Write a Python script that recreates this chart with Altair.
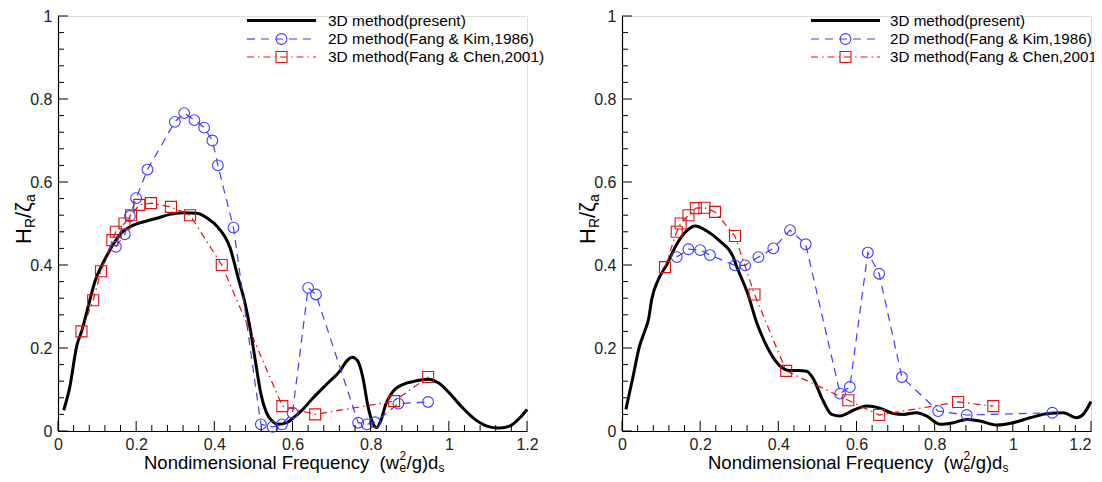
import altair as alt
import pandas as pd

# ---------------- data : left panel ----------------
L_black_x = [0.0146, 0.03, 0.048, 0.062, 0.08, 0.0947, 0.116, 0.1415, 0.163, 0.193, 0.227, 0.2525, 0.2866,
             0.32, 0.355, 0.3805, 0.41, 0.44, 0.461, 0.478, 0.492, 0.505, 0.519, 0.533, 0.548, 0.564, 0.585,
             0.6, 0.62, 0.653, 0.69, 0.7215, 0.739, 0.753, 0.766, 0.78, 0.793, 0.805, 0.815, 0.826, 0.839,
             0.857, 0.885, 0.912, 0.947, 0.975, 1.0, 1.031, 1.067, 1.104, 1.131, 1.16, 1.18, 1.2]
L_black_y = [0.05, 0.105, 0.205, 0.245, 0.31, 0.361, 0.406, 0.45, 0.478, 0.496, 0.506, 0.5125, 0.522,
             0.526, 0.5245, 0.514, 0.49, 0.442, 0.369, 0.31, 0.245, 0.169, 0.09, 0.045, 0.024, 0.016, 0.02,
             0.03, 0.046, 0.08, 0.115, 0.145, 0.169, 0.178, 0.17, 0.129, 0.06, 0.02, 0.008, 0.025, 0.065,
             0.095, 0.113, 0.12, 0.125, 0.115, 0.093, 0.06, 0.028, 0.01, 0.007, 0.014, 0.03, 0.052]

L_blue_x = [0.148, 0.171, 0.184, 0.2, 0.229, 0.299, 0.323, 0.349, 0.374, 0.395, 0.409, 0.449, 0.519, 0.549,
            0.573, 0.6, 0.64, 0.66, 0.768, 0.79, 0.811, 0.871, 0.947]
L_blue_y = [0.444, 0.474, 0.518, 0.561, 0.63, 0.745, 0.766, 0.749, 0.731, 0.70, 0.64, 0.49, 0.016, 0.010,
            0.016, 0.044, 0.345, 0.329, 0.02, 0.016, 0.021, 0.066, 0.07]

L_red_x = [0.06, 0.09, 0.11, 0.139, 0.148, 0.17, 0.187, 0.208, 0.238, 0.289, 0.338, 0.419, 0.574, 0.658,
           0.86, 0.947]
L_red_y = [0.24, 0.315, 0.385, 0.46, 0.48, 0.50, 0.52, 0.545, 0.549, 0.54, 0.52, 0.40, 0.06, 0.04, 0.072, 0.13]

# ---------------- data : right panel ----------------
R_black_x = [0.01, 0.028, 0.045, 0.058, 0.068, 0.076, 0.093, 0.114, 0.14, 0.1655, 0.187, 0.217, 0.25, 0.285,
             0.292, 0.322, 0.345, 0.365, 0.387, 0.409, 0.426, 0.45, 0.4725, 0.49, 0.511, 0.5365, 0.558, 0.592,
             0.626, 0.66, 0.694, 0.72, 0.754, 0.78, 0.814, 0.848, 0.882, 0.916, 0.959, 1.001, 1.044, 1.095,
             1.129, 1.163, 1.18, 1.2]
R_black_y = [0.052, 0.13, 0.205, 0.24, 0.27, 0.317, 0.365, 0.40, 0.45, 0.482, 0.494, 0.482, 0.458, 0.418,
             0.40, 0.33, 0.26, 0.215, 0.177, 0.153, 0.146, 0.146, 0.144, 0.125, 0.08, 0.04, 0.036, 0.05,
             0.06, 0.055, 0.042, 0.04, 0.044, 0.036, 0.016, 0.02, 0.028, 0.024, 0.0145, 0.02, 0.032, 0.0425,
             0.044, 0.032, 0.04, 0.071]

R_blue_x = [0.14, 0.17, 0.2, 0.225, 0.289, 0.315, 0.349, 0.387, 0.43, 0.47, 0.558, 0.583, 0.629, 0.658,
            0.716, 0.809, 0.882, 1.101]
R_blue_y = [0.419, 0.438, 0.436, 0.424, 0.399, 0.399, 0.419, 0.44, 0.484, 0.45, 0.09, 0.106, 0.43, 0.379,
            0.13, 0.048, 0.0385, 0.044]

R_red_x = [0.11, 0.14, 0.15, 0.17, 0.189, 0.211, 0.238, 0.289, 0.339, 0.42, 0.579, 0.658, 0.86, 0.95]
R_red_y = [0.395, 0.48, 0.50, 0.52, 0.537, 0.538, 0.528, 0.47, 0.329, 0.145, 0.074, 0.0385, 0.07, 0.06]

legend_labels = ["3D method(present)", "2D method(Fang & Kim,1986)", "3D method(Fang & Chen,2001)"]

x_major = [0, 0.2, 0.4, 0.6, 0.8, 1.0, 1.2]
y_major = [0, 0.2, 0.4, 0.6, 0.8, 1.0]
x_minor = [round(0.04 * i, 2) for i in range(31) if i % 5]
y_minor = [round(0.04 * i, 2) for i in range(26) if i % 5]

# ---------------- style ----------------
W, H = 469, 415
BLUE = "#3c3cff"
RED = "#dd1111"
FONT = "Liberation Sans"
BLUE_DASH = [8, 6]
RED_DASH = [7, 4, 1.5, 4]

xs = alt.Scale(domain=[0, 1.2], nice=False, zero=False)
ys = alt.Scale(domain=[0, 1], nice=False, zero=False)


def one():
    return pd.DataFrame({"k": [0]})


def txt(text, x, y, size, angle=0, align="left", baseline="alphabetic", color="black"):
    return alt.Chart(one()).mark_text(
        text=text, font=FONT, fontSize=size, angle=angle, align=align, baseline=baseline, color=color
    ).encode(x=alt.value(x), y=alt.value(y))


def panel(bx, by, cx, cy, sx, sy, last_right=False):
    black = pd.DataFrame({"x": bx, "y": by})
    blue = pd.DataFrame({"x": cx, "y": cy})
    red = pd.DataFrame({"x": sx, "y": sy})

    xaxis_kw = dict(values=x_major, format="~g", ticks=False, tickSize=0, grid=False,
                    domainColor="black", domainWidth=1.2, labelFont=FONT, labelFontSize=16,
                    labelColor="#222", labelPadding=5, title=None, labelFlush=False,
                    labelOverlap=False, labelBound=False)
    if last_right:
        xaxis_kw["labelAlign"] = {"condition": {"test": "datum.value >= 1.19", "value": "right"},
                                  "value": "center"}
    xaxis = alt.Axis(**xaxis_kw)
    yaxis = alt.Axis(values=y_major, format="~g", ticks=False, tickSize=0, grid=False,
                     domainColor="black", domainWidth=1.2, labelFont=FONT, labelFontSize=16,
                     labelColor="#222", labelPadding=6, title=None, labelOverlap=False)

    X = lambda f: alt.X(f, scale=xs, axis=xaxis)
    Y = lambda f: alt.Y(f, scale=ys, axis=yaxis)

    layers = []
    layers.append(alt.Chart(black).mark_line(color="black", strokeWidth=3, interpolate="monotone").encode(
        x=X("x:Q"), y=Y("y:Q")))

    layers.append(alt.Chart(blue).mark_line(color=BLUE, strokeWidth=1.2, strokeDash=BLUE_DASH).encode(
        x=X("x:Q"), y=Y("y:Q")))
    layers.append(alt.Chart(blue).mark_point(shape="circle", filled=False, size=115, color=BLUE,
                                             strokeWidth=1.1, opacity=1).encode(x=X("x:Q"), y=Y("y:Q")))

    layers.append(alt.Chart(red).mark_line(color=RED, strokeWidth=1.2, strokeDash=RED_DASH).encode(
        x=X("x:Q"), y=Y("y:Q")))
    layers.append(alt.Chart(red).mark_point(shape="square", filled=False, size=121, color=RED,
                                            strokeWidth=1.1, opacity=1).encode(x=X("x:Q"), y=Y("y:Q")))

    # inward ticks
    layers.append(alt.Chart(pd.DataFrame({"x": y_major})).mark_rule(color="black", strokeWidth=1).encode(
        y=Y("x:Q"), x=alt.value(0), x2=alt.value(10)))
    layers.append(alt.Chart(pd.DataFrame({"x": y_minor})).mark_rule(color="black", strokeWidth=1).encode(
        y=Y("x:Q"), x=alt.value(0), x2=alt.value(6)))
    layers.append(alt.Chart(pd.DataFrame({"x": x_major})).mark_rule(color="black", strokeWidth=1).encode(
        x=X("x:Q"), y=alt.value(H), y2=alt.value(H - 10)))
    layers.append(alt.Chart(pd.DataFrame({"x": x_minor})).mark_rule(color="black", strokeWidth=1).encode(
        x=X("x:Q"), y=alt.value(H), y2=alt.value(H - 6)))

    # legend
    rows = [4.5, 23, 41]
    lx0, lx1, lm = 189, 258, 223.5
    lt = 268 if last_right else 270
    lfs = 15.2 if last_right else 15.5
    layers.append(alt.Chart(one()).mark_rule(color="black", strokeWidth=3).encode(
        x=alt.value(lx0), x2=alt.value(lx1), y=alt.value(rows[0])))
    layers.append(alt.Chart(one()).mark_rule(color=BLUE, strokeWidth=1.2, strokeDash=BLUE_DASH).encode(
        x=alt.value(lx0), x2=alt.value(lx1), y=alt.value(rows[1])))
    layers.append(alt.Chart(one()).mark_point(shape="circle", filled=False, size=115, color=BLUE,
                                              strokeWidth=1.1, opacity=1).encode(
        x=alt.value(lm), y=alt.value(rows[1])))
    layers.append(alt.Chart(one()).mark_rule(color=RED, strokeWidth=1.2, strokeDash=RED_DASH).encode(
        x=alt.value(lx0), x2=alt.value(lx1), y=alt.value(rows[2])))
    layers.append(alt.Chart(one()).mark_point(shape="square", filled=False, size=121, color=RED,
                                              strokeWidth=1.1, opacity=1).encode(
        x=alt.value(lm), y=alt.value(rows[2])))
    for lab, ry in zip(legend_labels, rows):
        layers.append(txt(lab, lt, ry, lfs, baseline="middle"))

    # x title  : Nondimensional Frequency  (w_e^2/g)d_s
    A = 341
    layers.append(txt("Nondimensional Frequency\u00a0 (w", A, 452.5, 18.5, align="right"))
    layers.append(txt("2", A + 0.5, 444, 12))
    layers.append(txt("e", A + 0.5, 456, 12))
    layers.append(txt("/g)d", A + 7.5, 452.5, 18.5))
    layers.append(txt("s", A + 39.5, 456, 12))

    # y title : H_R / zeta_a (rotated)
    layers.append(txt("H", -27.5, 228, 22, angle=270))
    layers.append(txt("R", -23.5, 212.1, 14, angle=270))
    layers.append(txt("/", -27.5, 202.0, 22, angle=270))
    layers.append(txt("\u03b6", -27.5, 195.9, 22, angle=270))
    layers.append(txt("a", -23.5, 186.0, 14, angle=270))

    # invisible bounds anchors (fix the page position of the plot areas)
    if not last_right:
        layers.append(alt.Chart(one()).mark_rule(color="white", strokeWidth=1, opacity=0).encode(
            x=alt.value(-49.5), x2=alt.value(-48.5), y=alt.value(-7.5)))
    else:
        layers.append(alt.Chart(one()).mark_rule(color="white", strokeWidth=1, opacity=0).encode(
            x=alt.value(496.5), y=alt.value(469.5), y2=alt.value(470.5)))

    return alt.layer(*layers).properties(width=W, height=H)


left = panel(L_black_x, L_black_y, L_blue_x, L_blue_y, L_red_x, L_red_y)
right = panel(R_black_x, R_black_y, R_blue_x, R_blue_y, R_red_x, R_red_y, last_right=True)

chart = alt.hconcat(left, right, spacing=95, bounds="flush").properties(
    padding={"left": 0, "top": -1, "right": -25, "bottom": -12}
).configure_view(strokeWidth=0).configure(background="white")

chart.save("out.html", embed_options={"renderer": "svg", "actions": False})
